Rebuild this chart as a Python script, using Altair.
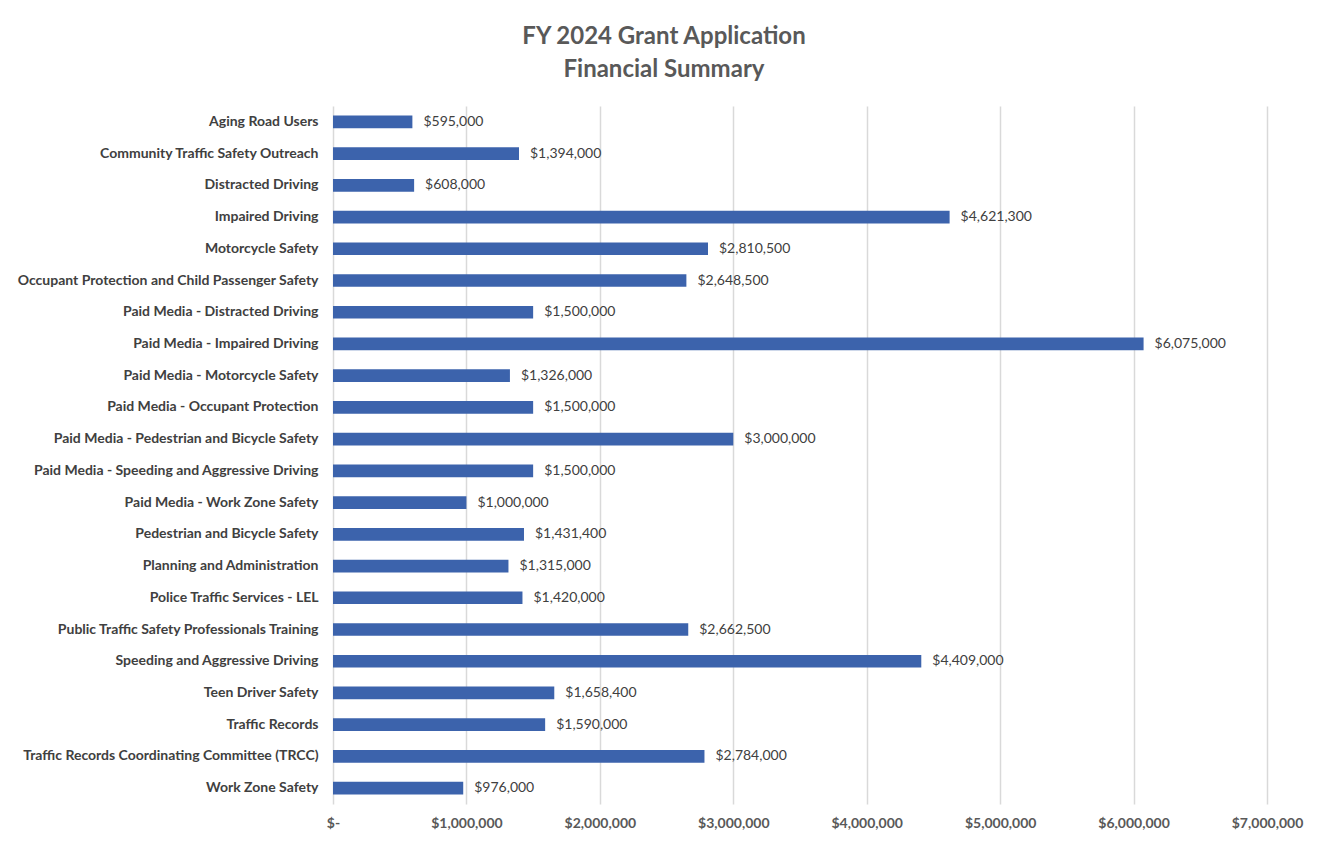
import altair as alt
import pandas as pd

categories = [
    "Aging Road Users",
    "Community Traffic Safety Outreach",
    "Distracted Driving",
    "Impaired Driving",
    "Motorcycle Safety",
    "Occupant Protection and Child Passenger Safety",
    "Paid Media - Distracted Driving",
    "Paid Media - Impaired Driving",
    "Paid Media - Motorcycle Safety",
    "Paid Media - Occupant Protection",
    "Paid Media - Pedestrian and Bicycle Safety",
    "Paid Media - Speeding and Aggressive Driving",
    "Paid Media - Work Zone Safety",
    "Pedestrian and Bicycle Safety",
    "Planning and Administration",
    "Police Traffic Services - LEL",
    "Public Traffic Safety Professionals Training",
    "Speeding and Aggressive Driving",
    "Teen Driver Safety",
    "Traffic Records",
    "Traffic Records Coordinating Committee (TRCC)",
    "Work Zone Safety",
]
amounts = [
    595000, 1394000, 608000, 4621300, 2810500, 2648500, 1500000, 6075000,
    1326000, 1500000, 3000000, 1500000, 1000000, 1431400, 1315000, 1420000,
    2662500, 4409000, 1658400, 1590000, 2784000, 976000,
]
x_ticks = [0, 1000000, 2000000, 3000000, 4000000, 5000000, 6000000, 7000000]

df = pd.DataFrame({"category": categories, "amount": amounts})

FONT = "Lato"
BAR = "#3C63AC"

y_enc = alt.Y(
    "category:N",
    sort=categories,
    title=None,
    scale=alt.Scale(paddingInner=0.6, paddingOuter=0.3),
    axis=alt.Axis(
        labelFont=FONT,
        labelFontSize=14,
        labelFontWeight="bold",
        labelColor="#404040",
        labelPadding=15,
        ticks=False,
        domain=False,
        grid=False,
        labelLimit=400,
    ),
)
x_enc = alt.X(
    "amount:Q",
    title=None,
    scale=alt.Scale(domain=[0, 7000000], nice=False),
    axis=alt.Axis(
        values=x_ticks,
        labelExpr="datum.value == 0 ? '$-' : '$' + format(datum.value, ',')",
        labelFont=FONT,
        labelFontSize=14,
        labelFontWeight="bold",
        labelColor="#595959",
        labelPadding=12,
        labelFlush=False,
        labelOverlap=False,
        ticks=False,
        domain=False,
        grid=True,
        gridColor="#D9D9D9",
        gridWidth=1.5,
    ),
)

bars = alt.Chart(df).mark_bar(color=BAR).encode(y=y_enc, x=x_enc)
labels = alt.Chart(df).mark_text(
    align="left", baseline="middle", dx=11, font=FONT, fontSize=14, color="#404040"
).encode(
    y=alt.Y("category:N", sort=categories),
    x=alt.X("amount:Q"),
    text=alt.Text("amount:Q", format="$,.0f"),
)

chart = (
    alt.layer(bars, labels)
    .properties(
        width=934,
        height=698,
        autosize=alt.AutoSizeParams(type="none"),
        padding={"left": 333, "top": 106, "right": 55, "bottom": 38},
        title=alt.Title(
            ["FY 2024 Grant Application", "Financial Summary"],
            font=FONT,
            fontSize=24,
            fontWeight="bold",
            color="#595959",
            lineHeight=33,
            anchor="middle",
            dx=-136,
            offset=24,
        ),
        background="white",
    )
    .configure_view(stroke=None)
)

chart.save("out.html", embed_options={"renderer": "svg", "actions": False})
